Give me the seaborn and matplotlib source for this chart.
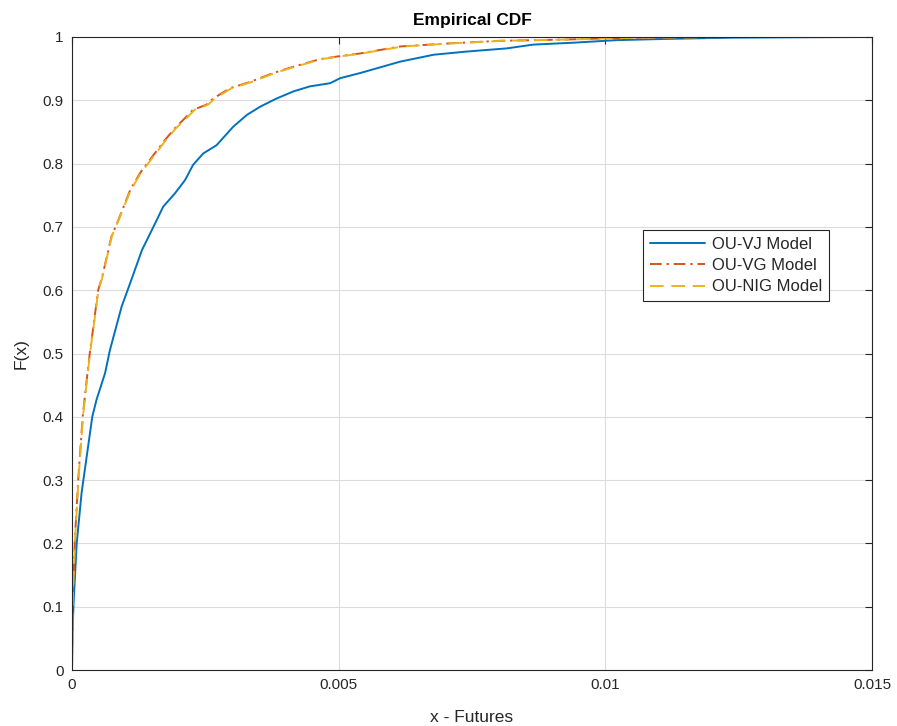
import numpy as np
import pandas as pd
import seaborn as sns
import matplotlib
matplotlib.use("Agg")
import matplotlib.pyplot as plt

# OU-VJ model ECDF (x, F)
vj_x = [0.0, 0.00001, 0.00003, 0.000088, 0.00018, 0.00038, 0.00046, 0.00062, 0.00071, 0.00093,
        0.00109, 0.00131, 0.00159, 0.00171, 0.00193, 0.00212, 0.00227, 0.00246, 0.00271,
        0.00302, 0.00328, 0.00353, 0.00384, 0.00415, 0.00446, 0.00484, 0.00503, 0.0054,
        0.00615, 0.00678, 0.0074, 0.00815, 0.00865, 0.0094, 0.0102, 0.01115, 0.0124,
        0.0134, 0.0148]
vj_f = [0.0, 0.06, 0.106, 0.20, 0.28, 0.40, 0.427, 0.469, 0.505, 0.574,
        0.611, 0.663, 0.711, 0.732, 0.753, 0.774, 0.798, 0.816, 0.829,
        0.858, 0.877, 0.890, 0.903, 0.914, 0.922, 0.927, 0.935, 0.943,
        0.961, 0.972, 0.977, 0.982, 0.988, 0.991, 0.995, 0.997, 0.999,
        0.9995, 1.0]

# OU-VG model ECDF
vg_x = [0.0, 0.00001, 0.000056, 0.00012, 0.0002, 0.000275, 0.00034, 0.0004, 0.00049, 0.00056,
        0.00074, 0.00087, 0.00109, 0.001275, 0.00146, 0.00174, 0.00193, 0.00212, 0.00227,
        0.00252, 0.00265, 0.00296, 0.00334, 0.00377, 0.00415, 0.00465, 0.00496, 0.0054,
        0.00615, 0.00709, 0.00803, 0.00928, 0.0105, 0.0115, 0.0123]
vg_f = [0.0, 0.10, 0.21, 0.305, 0.40, 0.458, 0.505, 0.542, 0.60, 0.619,
        0.685, 0.711, 0.758, 0.785, 0.806, 0.837, 0.856, 0.872, 0.885,
        0.893, 0.903, 0.919, 0.929, 0.943, 0.953, 0.965, 0.969, 0.974,
        0.985, 0.990, 0.994, 0.996, 0.999, 0.9995, 1.0]

# OU-NIG model ECDF
nig_x = [0.0, 0.00001, 0.00006, 0.000125, 0.000205, 0.00028, 0.000345, 0.000405, 0.000495, 0.000565,
         0.000745, 0.000875, 0.0011, 0.00129, 0.00148, 0.00176, 0.00195, 0.00215, 0.0023,
         0.00255, 0.00268, 0.00299, 0.00337, 0.0038, 0.00418, 0.00468, 0.00499, 0.00543,
         0.0062, 0.00712, 0.00806, 0.0093, 0.0106, 0.0117, 0.0126]
nig_f = vg_f

colors = ["#0072BD", "#D95319", "#EDB120"]
labels = ["OU-VJ Model", "OU-VG Model", "OU-NIG Model"]

sns.set_style("white")
plt.rcParams["font.family"] = ["Liberation Sans", "DejaVu Sans"]

fig = plt.figure(figsize=(8.97, 7.26), dpi=100)
ax = fig.add_axes([72/897, 56/726, 800/897, 633/726])

df_vj = pd.DataFrame({"x": vj_x, "F": vj_f})
df_vg = pd.DataFrame({"x": vg_x, "F": vg_f})
df_nig = pd.DataFrame({"x": nig_x, "F": nig_f})

sns.lineplot(data=df_vj, x="x", y="F", ax=ax, color=colors[0], lw=1.4,
             label=labels[0], estimator=None, sort=False)
sns.lineplot(data=df_vg, x="x", y="F", ax=ax, color=colors[1], lw=1.4,
             label=labels[1], estimator=None, sort=False, linestyle=(0, (6, 2.5, 1.2, 2.5)))
sns.lineplot(data=df_nig, x="x", y="F", ax=ax, color=colors[2], lw=1.4,
             label=labels[2], estimator=None, sort=False, linestyle=(0, (7, 4)))

ax.set_xlim(0, 0.015)
ax.set_ylim(0, 1)
ax.set_xticks([0, 0.005, 0.01, 0.015])
ax.set_xticklabels(["0", "0.005", "0.01", "0.015"])
ax.set_yticks(np.arange(0, 1.01, 0.1))
ax.set_yticklabels(["0", "0.1", "0.2", "0.3", "0.4", "0.5", "0.6", "0.7", "0.8", "0.9", "1"])
ax.grid(True, color="#dcdcdc", lw=0.8)
ax.set_axisbelow(True)
for s in ax.spines.values():
    s.set_color("#262626")
    s.set_linewidth(0.8)
    s.set_visible(True)
ax.tick_params(direction="in", length=5, width=0.8, colors="#262626",
               labelsize=11, top=True, right=True, pad=6)
ax.set_xlabel("x - Futures", fontsize=12.5, color="#262626", labelpad=13)
ax.set_ylabel("F(x)", fontsize=12.5, color="#262626", labelpad=10)
ax.set_title("Empirical CDF", fontsize=12.5, fontweight="bold", color="black", pad=9)

leg = ax.legend(loc="upper left", bbox_to_anchor=(0.714, 0.695), fontsize=12,
                frameon=True, fancybox=False, edgecolor="#262626", framealpha=1,
                borderaxespad=0, handlelength=3.3, handletextpad=0.45,
                labelspacing=0.38, borderpad=0.4)
leg.get_frame().set_linewidth(0.8)

fig.savefig("out.png", dpi=100)
